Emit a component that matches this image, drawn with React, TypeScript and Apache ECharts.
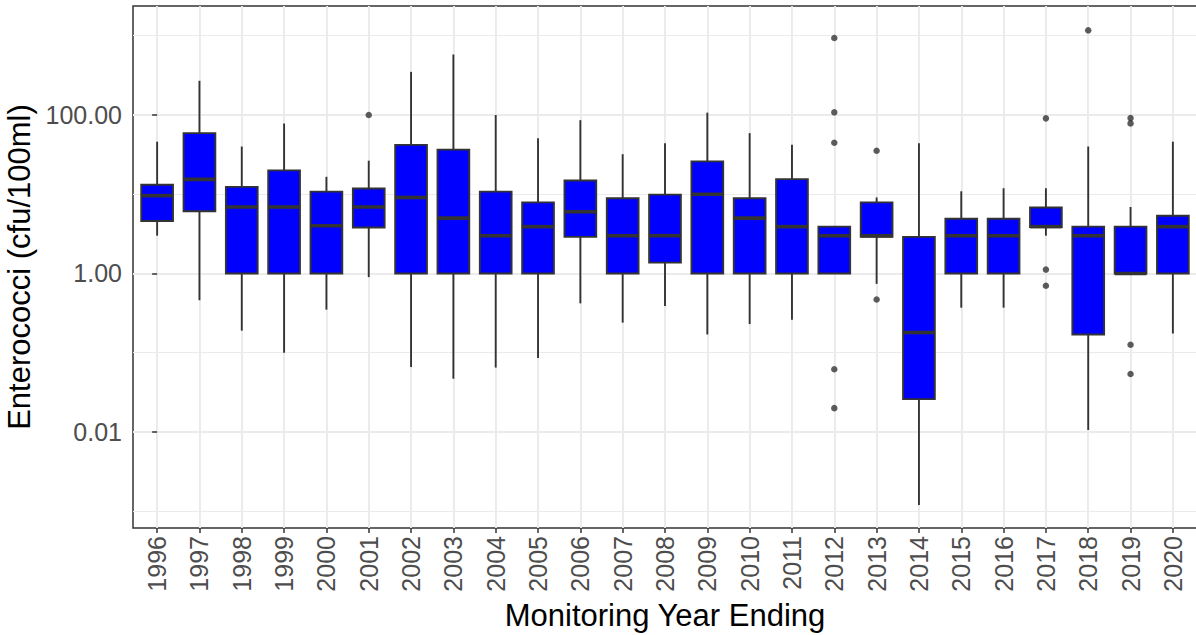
import React, { useEffect, useRef } from "react";
import * as echarts from "echarts";

const years = [
  "1996", "1997", "1998", "1999", "2000", "2001", "2002", "2003", "2004", "2005",
  "2006", "2007", "2008", "2009", "2010", "2011", "2012", "2013", "2014", "2015",
  "2016", "2017", "2018", "2019", "2020",
];
const whiskerLow = [3.0, 0.46, 0.19, 0.1, 0.35, 0.9, 0.066, 0.047, 0.065, 0.086, 0.42, 0.24, 0.39, 0.17, 0.23, 0.26, 1, 0.74, 0.0012, 0.37, 0.37, 3.0, 0.0106, 1, 0.175];
const q1 = [4.6, 6.1, 1, 1, 1, 3.8, 1, 1, 1, 1, 2.9, 1, 1.37, 1, 1, 1, 1, 2.9, 0.026, 1, 1, 3.85, 0.17, 1, 1];
const median = [9.6, 15.4, 6.9, 6.9, 4.0, 6.9, 9.1, 5.0, 3.0, 3.9, 6.0, 3.0, 3.0, 10, 5.0, 3.9, 3.0, 3.0, 0.18, 3.0, 3.0, 3.9, 3.0, 1, 3.9];
const q3 = [13.2, 59, 12.4, 20, 10.8, 11.8, 42, 36.5, 10.8, 7.9, 14.9, 8.9, 9.9, 26, 8.9, 15.5, 3.9, 7.9, 2.9, 4.9, 4.9, 6.8, 3.9, 3.9, 5.35];
const whiskerHigh = [46, 270, 40, 78, 16.6, 26.5, 350, 580, 100, 51, 86, 32, 44, 107, 59, 42, 3.9, 9.1, 44, 10.9, 11.9, 11.9, 40, 6.9, 46];

const outlierYears = ["2001", "2012", "2012", "2012", "2012", "2012", "2013", "2013", "2017", "2017", "2017", "2018", "2019", "2019", "2019", "2019"];
const outlierValues = [100, 935, 108, 44.7, 0.062, 0.02, 35.4, 0.47, 90.6, 1.12, 0.7, 1170, 91.4, 78.3, 0.126, 0.054];

const yMajorTicks = [0.01, 1, 100];
const yMinorTicks = [0.001, 0.1, 10, 1000];
const yMin = 0.000615;
const yMax = 2371;

const FONT = "'Liberation Sans', Arial, sans-serif";

export default function App() {
  const ref = useRef<HTMLDivElement>(null);
  useEffect(() => {
    const chart = echarts.init(ref.current!, null, { renderer: "svg" });
    const idx = years.map((_, i) => i);
    const boxData = idx.map((i) => [i, whiskerLow[i], q1[i], median[i], q3[i], whiskerHigh[i]]);
    const outData = outlierYears.map((y, k) => [years.indexOf(y), outlierValues[k]]);

    const option: any = {
      animation: false,
      backgroundColor: "#ffffff",
      grid: {
        left: 133,
        top: 6,
        width: 1064,
        height: 522,
        show: true,
        borderColor: "#333333",
        borderWidth: 1.5,
        backgroundColor: "transparent",
        containLabel: false,
        outerBoundsMode: "none",
      },
      xAxis: {
        type: "value",
        min: -0.57,
        max: 24.57,
        axisLine: { show: false },
        axisTick: { show: true, customValues: idx, length: 5, lineStyle: { color: "#333333", width: 1.5 } },
        axisLabel: {
          customValues: idx,
          formatter: (v: number) => years[Math.round(v)] ?? "",
          rotate: 90,
          fontSize: 25,
          color: "#4d4d4d",
          fontFamily: FONT,
          margin: 8,
        },
        splitLine: { show: true, lineStyle: { color: "#ebebeb", width: 1.9 } },
        name: "Monitoring Year Ending",
        nameLocation: "middle",
        nameGap: 69,
        nameTextStyle: { fontSize: 31, color: "#000000", fontFamily: FONT },
      },
      yAxis: [
        {
          type: "log",
          logBase: 10,
          min: yMin,
          max: yMax,
          position: "left",
          axisLine: { show: false },
          axisTick: { show: true, customValues: yMajorTicks, length: 5, lineStyle: { color: "#333333", width: 1.5 } },
          axisLabel: {
            customValues: yMajorTicks,
            formatter: (v: number) => v.toFixed(2),
            fontSize: 25,
            color: "#4d4d4d",
            fontFamily: FONT,
            margin: 11,
          },
          splitLine: { show: true, lineStyle: { color: "#ebebeb", width: 1.9 } },
          name: "Enterococci (cfu/100ml)",
          nameLocation: "middle",
          nameGap: 93,
          nameTextStyle: { fontSize: 31, color: "#000000", fontFamily: FONT },
        },
        {
          type: "log",
          logBase: 10,
          min: yMin,
          max: yMax,
          position: "left",
          axisLine: { show: false },
          axisTick: { show: false, customValues: yMinorTicks },
          axisLabel: { show: false, customValues: yMinorTicks },
          splitLine: { show: true, lineStyle: { color: "#ebebeb", width: 1 } },
        },
      ],
      series: [
        {
          type: "custom",
          xAxisIndex: 0,
          yAxisIndex: 0,
          data: boxData,
          encode: { x: 0, y: [1, 2, 3, 4, 5] },
          renderItem: (params: any, api: any) => {
            const x = api.value(0);
            const pLo = api.coord([x, api.value(1)]);
            const pQ1 = api.coord([x, api.value(2)]);
            const pMed = api.coord([x, api.value(3)]);
            const pQ3 = api.coord([x, api.value(4)]);
            const pHi = api.coord([x, api.value(5)]);
            const xl = api.coord([x - 0.375, api.value(3)])[0];
            const xr = api.coord([x + 0.375, api.value(3)])[0];
            const stroke = "#333333";
            return {
              type: "group",
              children: [
                { type: "line", shape: { x1: pHi[0], y1: pHi[1], x2: pQ3[0], y2: pQ3[1] }, style: { stroke, lineWidth: 1.9 } },
                { type: "line", shape: { x1: pQ1[0], y1: pQ1[1], x2: pLo[0], y2: pLo[1] }, style: { stroke, lineWidth: 1.9 } },
                { type: "rect", shape: { x: xl, y: pQ3[1], width: xr - xl, height: pQ1[1] - pQ3[1] }, style: { fill: "#0000ff", stroke, lineWidth: 1.9 } },
                { type: "line", shape: { x1: xl, y1: pMed[1], x2: xr, y2: pMed[1] }, style: { stroke, lineWidth: 3.6 } },
              ],
            };
          },
          z: 3,
        },
        {
          type: "scatter",
          xAxisIndex: 0,
          yAxisIndex: 0,
          data: outData,
          symbol: "circle",
          symbolSize: 6.5,
          itemStyle: { color: "#333333" },
          z: 4,
        },
      ],
    };
    chart.setOption(option);
    return () => chart.dispose();
  }, []);
  return (
    <div
      ref={ref}
      style={{ position: "fixed", left: 0, top: 0, width: 1196, height: 635, background: "#ffffff" }}
    />
  );
}
